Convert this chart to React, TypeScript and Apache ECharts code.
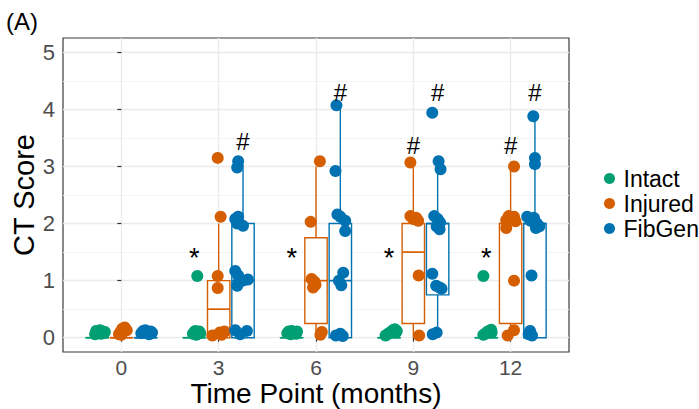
import React, { useEffect, useRef } from 'react';
import * as echarts from 'echarts';

// ---------- data ----------
const timeLabels = ['0', '3', '6', '9', '12'];
const groupNames = ['Intact', 'Injured', 'FibGen'];

// CT scores per time point (as plotted, with vertical jitter)
const intactValues = [
  [0.06, 0.12, 0.09, 0.13, 0.07, 0.11, 0.08, 0.1],
  [0.07, 0.1, 0.12, 0.05, 0.09, 0.11, 0.08, 1.08],
  [0.08, 0.11, 0.06, 0.12, 0.09, 0.1, 0.07, 0.11],
  [0.04, 0.06, 0.08, 0.1, 0.13, 0.15, 0.12, 0.09],
  [0.05, 0.07, 0.1, 0.12, 0.14, 0.09, 0.11, 1.08],
];
const injuredValues = [
  [0.06, 0.1, 0.16, 0.18, 0.13, 0.05],
  [3.15, 2.12, 1.08, 0.87, 0.04, 0.11, 0.05, 0.09],
  [3.09, 2.03, 1.03, 0.88, 0.98, 0.93, 0.05, 0.1],
  [3.07, 2.13, 2.08, 2.05, 2.1, 1.09, 0.04],
  [3.0, 2.06, 2.13, 2.1, 2.12, 2.04, 1.92, 1.0, 0.04, 0.13],
];
const fibgenValues = [
  [0.08, 0.12, 0.13, 0.1, 0.06, 0.11, 0.09],
  [3.09, 2.98, 2.12, 2.08, 1.96, 2.0, 1.17, 1.09, 1.0, 1.02, 0.91, 0.13, 0.06, 0.12],
  [4.07, 2.92, 2.16, 2.12, 2.05, 1.87, 1.14, 1.0, 0.92, 0.04, 0.07, 0.03],
  [3.94, 3.09, 2.95, 2.13, 2.08, 2.02, 1.95, 1.9, 1.12, 0.91, 0.88, 0.86, 0.06, 0.09],
  [3.88, 3.15, 3.04, 2.12, 2.05, 2.1, 2.0, 1.95, 1.92, 1.09, 0.12, 0.06, 0.04],
];

// horizontal jitter of each point (fraction of a time-point slot)
const intactJitter = [
  [-0.02, -0.01, 0.01, 0.03, 0.04, 0.06, 0.07, 0.08],
  [-0.015, 0.0, 0.01, 0.02, 0.035, 0.05, 0.06, 0.03],
  [-0.045, -0.03, -0.01, 0.0, 0.02, 0.03, 0.045, 0.055],
  [-0.035, -0.015, 0.0, 0.02, 0.04, 0.06, 0.08, 0.07],
  [-0.03, -0.01, 0.01, 0.03, 0.05, 0.055, 0.02, -0.03],
];
const injuredJitter = [
  [-0.025, -0.01, 0.01, 0.035, 0.055, 0.0],
  [-0.01, 0.02, -0.01, -0.01, -0.065, 0.06, 0.03, 0.01],
  [0.04, -0.055, -0.045, -0.03, -0.015, -0.005, 0.045, 0.06],
  [-0.03, -0.03, 0.0, 0.05, 0.03, 0.055, 0.06],
  [0.035, -0.045, -0.02, 0.01, 0.035, 0.05, -0.045, 0.035, -0.03, 0.035],
];
const fibgenJitter = [
  [-0.045, -0.025, -0.005, 0.015, 0.035, 0.05, 0.065],
  [-0.05, -0.06, -0.05, -0.08, 0.0, -0.06, -0.08, -0.05, 0.0, 0.05, -0.06, -0.08, -0.03, 0.04],
  [-0.04, -0.05, -0.03, 0.0, 0.05, 0.05, 0.03, -0.015, 0.01, -0.045, 0.0, 0.025],
  [-0.055, 0.01, 0.03, -0.035, 0.0, 0.025, -0.01, 0.02, -0.055, -0.015, 0.02, 0.04, -0.05, -0.01],
  [-0.017, 0.0, 0.0, -0.08, -0.045, -0.01, 0.02, 0.045, 0.01, -0.035, -0.05, -0.065, -0.03],
];

// box statistics per time point: [lower whisker, Q1, median, Q3, upper whisker]
const intactBox = [
  [0, 0, 0, 0, 0],
  [0, 0, 0, 0, 0],
  [0, 0, 0, 0, 0],
  [0, 0, 0, 0, 0],
  [0, 0, 0, 0, 0],
];
const injuredBox = [
  [0, 0, 0, 0, 0],
  [0, 0, 0.5, 1, 2],
  [0, 0.25, 1, 1.75, 3],
  [0, 0.25, 1.5, 2, 3],
  [0, 0.25, 2, 2, 3],
];
const fibgenBox = [
  [0, 0, 0, 0, 0],
  [0, 0, 1, 2, 3.04],
  [0, 0, 1, 2, 4.05],
  [0, 0.75, 2, 2, 3],
  [0, 0, 2, 2, 3.88],
];

// significance marks: [time index, group index, score level]
const starMarks = [
  [1, 0, 1.5],
  [2, 0, 1.5],
  [3, 0, 1.5],
  [4, 0, 1.5],
];
const hashMarks = [
  [1, 2, 3.44],
  [2, 2, 4.3],
  [3, 1, 3.36],
  [3, 2, 4.3],
  [4, 1, 3.36],
  [4, 2, 4.3],
];

const yTicks = [0, 1, 2, 3, 4, 5];
const yMinorTicks = [0.5, 1.5, 2.5, 3.5, 4.5];

// ---------- styling ----------
const FONT = '"Liberation Sans", Arial, Helvetica, sans-serif';
const groupColors = ['#009E73', '#D55E00', '#0072B2'];
const dodge = [-0.25, 0, 0.25];
const BOX_HALF = 0.115;

const allValues = [intactValues, injuredValues, fibgenValues];
const allJitter = [intactJitter, injuredJitter, fibgenJitter];
const allBoxes = [intactBox, injuredBox, fibgenBox];

export default function App() {
  const ref = useRef<HTMLDivElement>(null);

  useEffect(() => {
    if (!ref.current) return;
    const chart = echarts.init(ref.current, undefined, { renderer: 'svg' });

    const boxSeries = groupNames.map((g, gi) => ({
      name: 'box-' + g,
      type: 'custom',
      z: 2,
      silent: true,
      data: allBoxes[gi].map((b, t) => [t, ...b]),
      renderItem: (params: any, api: any) => {
        const x = api.value(0) + dodge[gi];
        const color = groupColors[gi];
        const [cx, yLo] = api.coord([x, api.value(1)]);
        const yQ1 = api.coord([x, api.value(2)])[1];
        const yMed = api.coord([x, api.value(3)])[1];
        const yQ3 = api.coord([x, api.value(4)])[1];
        const yHi = api.coord([x, api.value(5)])[1];
        const hw = api.size([BOX_HALF, 0])[0];
        const ls = { stroke: color, lineWidth: 1.4, fill: 'none' };
        return {
          type: 'group',
          children: [
            { type: 'line', shape: { x1: cx, y1: yHi, x2: cx, y2: yQ3 }, style: ls },
            { type: 'line', shape: { x1: cx, y1: yQ1, x2: cx, y2: yLo }, style: ls },
            {
              type: 'rect',
              shape: { x: cx - hw, y: yQ3, width: 2 * hw, height: Math.max(yQ1 - yQ3, 0.01) },
              style: { fill: '#ffffff', stroke: color, lineWidth: 1.4 },
            },
            { type: 'line', shape: { x1: cx - hw, y1: yMed, x2: cx + hw, y2: yMed }, style: { stroke: color, lineWidth: 1.7 } },
          ],
        };
      },
    }));

    const pointSeries = groupNames.map((g, gi) => {
      const data: number[][] = [];
      allValues[gi].forEach((vals, t) => {
        vals.forEach((v, k) => {
          data.push([t + dodge[gi] + allJitter[gi][t][k], v]);
        });
      });
      return {
        name: g,
        type: 'scatter',
        z: 3,
        symbol: 'circle',
        symbolSize: 12,
        itemStyle: { color: groupColors[gi], opacity: 1 },
        data,
      };
    });

    const markSeries = (marks: number[][], text: string, size: number, dy: number) => ({
      name: 'mark-' + text,
      type: 'custom',
      z: 4,
      silent: true,
      data: marks.map((m) => [m[0] + dodge[m[1]], m[2]]),
      renderItem: (params: any, api: any) => {
        const [px, py] = api.coord([api.value(0), api.value(1)]);
        return {
          type: 'text',
          x: px,
          y: py + dy,
          style: {
            text,
            fill: '#000',
            font: size + 'px ' + FONT,
            align: 'center',
            verticalAlign: 'middle',
          },
        };
      },
    });

    const option: any = {
      animation: false,
      backgroundColor: '#ffffff',
      textStyle: { fontFamily: FONT },
      grid: {
        left: 63,
        top: 38,
        width: 506,
        height: 314,
        show: true,
        borderColor: '#3a3a3a',
        borderWidth: 1.2,
        backgroundColor: 'transparent',
        containLabel: false,
        outerBoundsMode: 'none',
      },
      legend: {
        orient: 'vertical',
        left: 599,
        top: 162,
        itemWidth: 18,
        itemHeight: 11,
        itemGap: 2,
        icon: 'circle',
        data: groupNames,
        textStyle: { fontSize: 23, color: '#000', fontFamily: FONT, lineHeight: 22 },
      },
      xAxis: {
        type: 'value',
        min: -0.6,
        max: 4.6,
        axisLine: { show: false },
        axisTick: {
          show: true,
          length: 4,
          lineStyle: { color: '#333333', width: 1.2 },
          customValues: timeLabels.map((_, i) => i),
        },
        axisLabel: {
          customValues: timeLabels.map((_, i) => i),
          formatter: (v: number) => timeLabels[Math.round(v)] ?? '',
          fontSize: 21,
          lineHeight: 20,
          color: '#4D4D4D',
          fontFamily: FONT,
          margin: 5,
        },
        splitLine: { show: true, lineStyle: { color: '#EBEBEB', width: 1.3 } },
        name: 'Time Point (months)',
        nameLocation: 'middle',
        nameGap: 28,
        nameMoveOverlap: false,
        nameTextStyle: { fontSize: 28, color: '#000', fontFamily: FONT, lineHeight: 27 },
      },
      yAxis: [
        {
          type: 'value',
          min: -0.25,
          max: 5.25,
          axisLine: { show: false },
          axisTick: {
            show: true,
            length: 4,
            lineStyle: { color: '#333333', width: 1.2 },
            customValues: yTicks,
          },
          axisLabel: {
            customValues: yTicks,
            fontSize: 22,
            color: '#4D4D4D',
            fontFamily: FONT,
            margin: 8,
          },
          splitLine: { show: true, lineStyle: { color: '#EBEBEB', width: 1.3 } },
          name: 'CT Score',
          nameLocation: 'middle',
          nameGap: 25,
          nameMoveOverlap: false,
          nameTextStyle: { fontSize: 29, color: '#000', fontFamily: FONT, lineHeight: 29 },
        },
        {
          type: 'value',
          min: -0.25,
          max: 5.25,
          position: 'left',
          axisLine: { show: false },
          axisTick: { show: false, customValues: yMinorTicks },
          axisLabel: { show: false, customValues: yMinorTicks },
          splitLine: { show: true, lineStyle: { color: '#F3F3F3', width: 0.9 } },
        },
      ],
      graphic: [
        {
          type: 'text',
          left: 6,
          top: 9,
          style: { text: '(A)', fill: '#000', font: '24px ' + FONT },
        },
      ],
      series: [
        ...boxSeries,
        ...pointSeries,
        markSeries(starMarks, '*', 27, 6),
        markSeries(hashMarks, '#', 24, 0),
      ],
    };

    chart.setOption(option);
    return () => chart.dispose();
  }, []);

  return (
    <div
      ref={ref}
      style={{ position: 'absolute', left: 0, top: 0, width: 699, height: 409 }}
    />
  );
}
